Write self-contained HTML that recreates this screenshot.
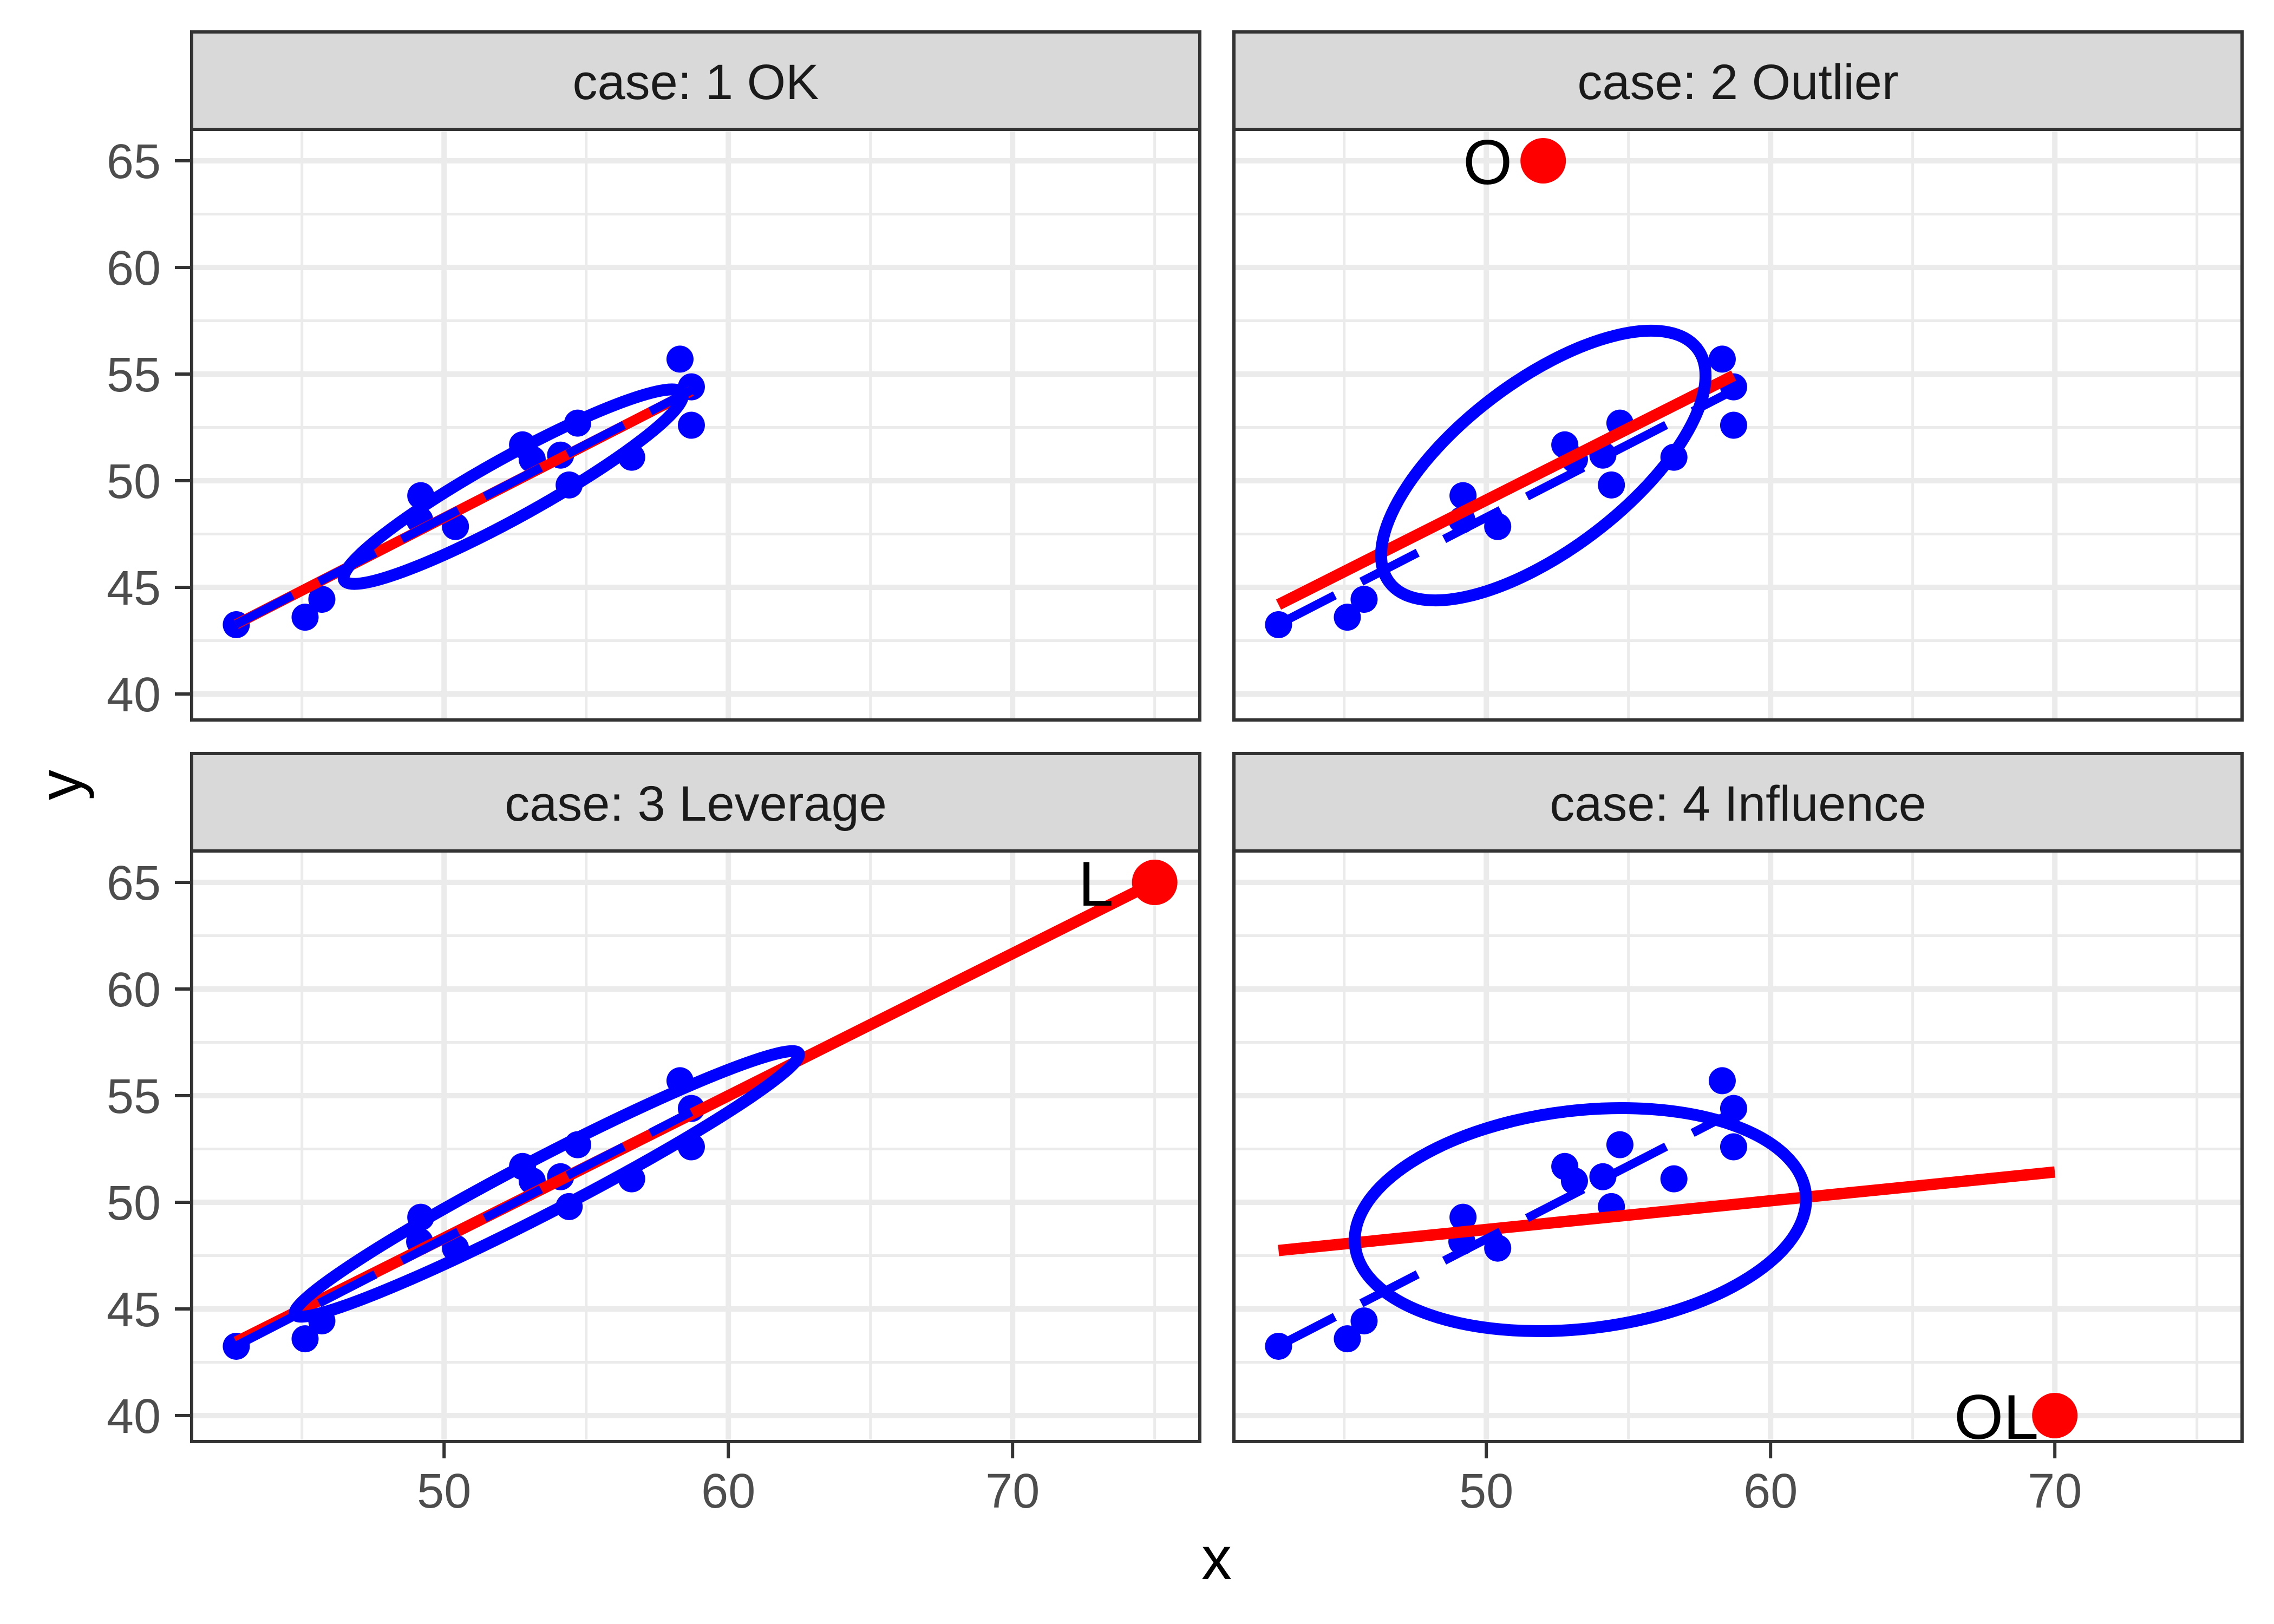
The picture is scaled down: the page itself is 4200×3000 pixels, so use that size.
<!DOCTYPE html>
<html><head><meta charset="utf-8">
<style>
html,body{margin:0;padding:0;background:#fff;}
svg{display:block;}
text{font-family:"Liberation Sans",Arial,sans-serif;}
</style></head>
<body>
<svg id="s" xmlns="http://www.w3.org/2000/svg" width="4200" height="3000" viewBox="0 0 4200 3000">
<rect width="4200" height="3000" fill="#fff"/>
</svg>
<script>
(function(){
var NS="http://www.w3.org/2000/svg", s=document.getElementById("s");
function el(t,a,txt){var e=document.createElementNS(NS,t);for(var k in a)e.setAttribute(k,a[k]);if(txt!==undefined)e.textContent=txt;s.appendChild(e);return e;}
var pts=[[42.69,43.25],[45.11,43.6],[45.7,44.44],[49.18,49.3],[49.14,48.16],[50.4,47.85],[52.76,51.68],[53.1,51.0],[54.1,51.2],[54.4,49.8],[54.7,52.7],[56.6,51.1],[58.3,55.7],[58.7,54.4],[58.7,52.6]];
var panels=[
 {x0:354,top:239,y65:297,title:"case: 1 OK",red:[[42.69,43.27],[58.7,54.2]],redw:19,ell:[948-354,899-297,357,55,-29]},
 {x0:2279,top:239,y65:297,title:"case: 2 Outlier",red:[[42.69,44.19],[58.7,54.93]],redw:21,ell:[2850.5-2279,860-297,357,156,-37.2],sp:[52,65,"O",57]},
 {x0:354,top:1572,y65:1630,title:"case: 3 Leverage",red:[[42.69,43.45],[75,65]],redw:21,ell:[1010-354,2187-1630,524,50,-27.4],sp:[75,65,"L",76]},
 {x0:2279,top:1572,y65:1630,title:"case: 4 Influence",red:[[42.69,47.74],[70,51.42]],redw:21,ell:[2919-2279,2253-1630,419,201.5,-6.7],sp:[70,40,"OL",30]}
];
var W=1862,H=1091;
panels.forEach(function(p,i){
 function X(v){return p.x0+(v-41.12)*52.5;}
 function Y(v){return p.y65+(65-v)*39.4;}
 el("rect",{x:p.x0,y:p.top-180,width:W,height:180,fill:"#d9d9d9",stroke:"#333",'stroke-width':6});
 el("text",{x:p.x0+W/2,y:p.top-56,'font-size':92,fill:"#1a1a1a",'text-anchor':"middle"},p.title);
 var cid="c"+i;
 var cp=document.createElementNS(NS,"clipPath");cp.setAttribute("id",cid);
 var cr=document.createElementNS(NS,"rect");cr.setAttribute("x",p.x0);cr.setAttribute("y",p.top);cr.setAttribute("width",W);cr.setAttribute("height",H);
 cp.appendChild(cr);s.appendChild(cp);
 var g=document.createElementNS(NS,"g");g.setAttribute("clip-path","url(#"+cid+")");s.appendChild(g);
 function gel(t,a){var e=document.createElementNS(NS,t);for(var k in a)e.setAttribute(k,a[k]);g.appendChild(e);return e;}
 [42.5,47.5,52.5,57.5,62.5].forEach(function(v){gel("line",{x1:p.x0,x2:p.x0+W,y1:Y(v),y2:Y(v),stroke:"#ebebeb",'stroke-width':5});});
 [45,55,65,75].forEach(function(v){gel("line",{x1:X(v),x2:X(v),y1:p.top,y2:p.top+H,stroke:"#ebebeb",'stroke-width':5});});
 [40,45,50,55,60,65].forEach(function(v){gel("line",{x1:p.x0,x2:p.x0+W,y1:Y(v),y2:Y(v),stroke:"#ebebeb",'stroke-width':10});});
 [50,60,70].forEach(function(v){gel("line",{x1:X(v),x2:X(v),y1:p.top,y2:p.top+H,stroke:"#ebebeb",'stroke-width':10});});
 pts.forEach(function(q){gel("circle",{cx:X(q[0]),cy:Y(q[1]),r:25,fill:"#0000ff"});});
 gel("line",{x1:X(p.red[0][0]),y1:Y(p.red[0][1]),x2:X(p.red[1][0]),y2:Y(p.red[1][1]),stroke:"#ff0000",'stroke-width':p.redw});
 gel("line",{x1:X(42.69),y1:Y(43.27),x2:X(58.7),y2:Y(54.24),stroke:"#0000ff",'stroke-width':16,'stroke-dasharray':"117 55"});
 var e=p.ell;
 gel("ellipse",{cx:p.x0+e[0],cy:p.y65+e[1],rx:e[2],ry:e[3],fill:"none",stroke:"#0000ff",'stroke-width':22,transform:"rotate("+e[4]+" "+(p.x0+e[0])+" "+(p.y65+e[1])+")"});
 if(p.sp){
  gel("circle",{cx:X(p.sp[0]),cy:Y(p.sp[1]),r:42,fill:"#ff0000"});
  var t=gel("text",{x:X(p.sp[0])-p.sp[3],y:Y(p.sp[1])+43,'font-size':117,fill:"#000",'text-anchor':"end"});t.textContent=p.sp[2];
 }
 el("rect",{x:p.x0,y:p.top,width:W,height:H,fill:"none",stroke:"#333",'stroke-width':6});
 if(i%2==0){
  [40,45,50,55,60,65].forEach(function(v){
   el("line",{x1:p.x0-31,x2:p.x0,y1:Y(v),y2:Y(v),stroke:"#333",'stroke-width':6});
   el("text",{x:297,y:Y(v)+32,'font-size':90,fill:"#4d4d4d",'text-anchor':"end"},String(v));
  });
 }
 if(i>=2){
  [50,60,70].forEach(function(v){
   el("line",{x1:X(v),x2:X(v),y1:p.top+H,y2:p.top+H+31,stroke:"#333",'stroke-width':6});
   el("text",{x:X(v),y:2785,'font-size':90,fill:"#4d4d4d",'text-anchor':"middle"},String(v));
  });
 }
});
el("text",{x:2247,y:2917,'font-size':112,fill:"#000",'text-anchor':"middle"},"x");
el("text",{x:150,y:1450,'font-size':112,fill:"#000",'text-anchor':"middle",transform:"rotate(-90 150 1450)"},"y");
})();
</script>
</body></html>
